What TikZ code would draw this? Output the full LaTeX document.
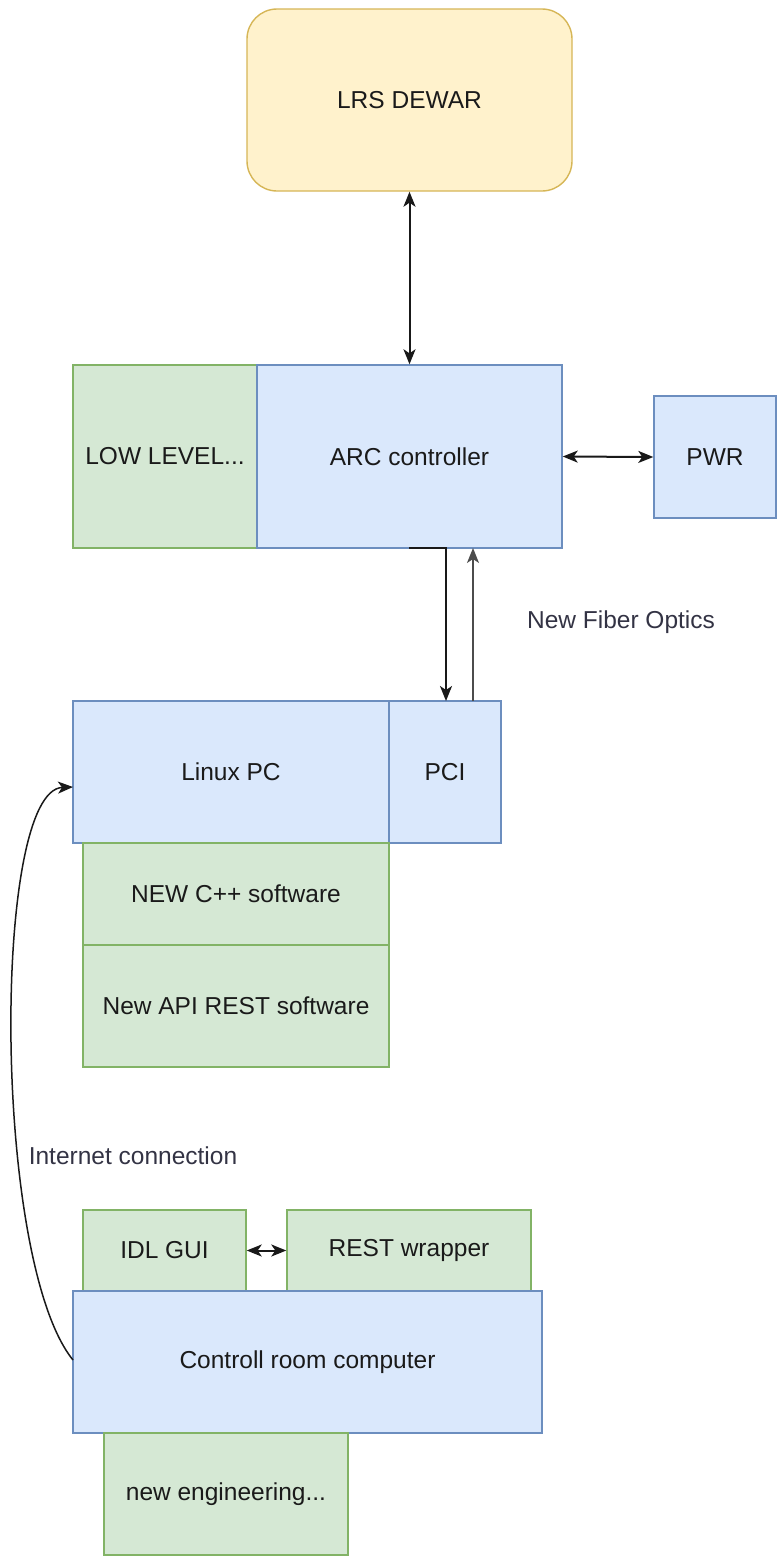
\documentclass[tikz,border=0pt]{standalone}
\usepackage{fontspec}
\setmainfont{Liberation Sans}
\usetikzlibrary{arrows.meta}
\definecolor{yfill}{HTML}{FFF2CC}\definecolor{ydraw}{HTML}{D6B656}
\definecolor{gfill}{HTML}{D5E8D4}\definecolor{gdraw}{HTML}{82B366}
\definecolor{bfill}{HTML}{DAE8FC}\definecolor{bdraw}{HTML}{6C8EBF}
\definecolor{txt}{HTML}{1A1A1A}\definecolor{lbl}{HTML}{333344}
\begin{document}
\begin{tikzpicture}[x=1pt,y=-1pt,
  >={Stealth[length=15pt,width=12pt,inset=4pt]},
  every node/.style={font=\fontsize{24.5}{28}\selectfont, text=txt},
  box/.style={draw, line width=1.4pt, inner sep=0pt},
  gbox/.style={box, fill=gfill, draw=gdraw},
  bbox/.style={box, fill=bfill, draw=bdraw},
  ybox/.style={box, fill=yfill, draw=ydraw, rounded corners=30pt},
  conn/.style={line width=2pt, black!90},
  lab/.style={text=lbl}]
\useasboundingbox (0,0) rectangle (779,1564);
% boxes
\node[ybox, minimum width=325pt, minimum height=182pt] (dewar) at (409.5,100) {LRS DEWAR};
\node[gbox, minimum width=184pt, minimum height=183pt] (low) at (165,456.5) {LOW LEVEL...};
\node[bbox, minimum width=305pt, minimum height=183pt] (arc) at (409.5,456.5) {ARC controller};
\node[bbox, minimum width=122pt, minimum height=122pt] (pwr) at (715,457) {PWR};
\node[bbox, minimum width=316pt, minimum height=142pt] (linux) at (231,772) {Linux PC};
\node[bbox, minimum width=112pt, minimum height=142pt] (pci) at (445,772) {PCI};
\node[gbox, minimum width=306pt, minimum height=102pt] (cpp) at (236,894) {NEW C++ software};
\node[gbox, minimum width=306pt, minimum height=122pt] (api) at (236,1006) {New API REST software};
\node[gbox, minimum width=163pt, minimum height=81pt] (idl) at (164.5,1250.5) {IDL GUI};
\node[gbox, minimum width=244pt, minimum height=81pt] (rest) at (409,1250.5) {REST wrapper};
\node[bbox, minimum width=469pt, minimum height=142pt] (ctrl) at (307.5,1362) {Controll room computer};
\node[gbox, minimum width=244pt, minimum height=122pt] (eng) at (226,1494) {new engineering...};
% connectors
\draw[conn, <->] (dewar.south) -- (arc.north);
\draw[conn, <->] (arc.east) -- (pwr.west);
\coordinate (dstart) at (409,548);
\coordinate (dend) at (446,701);
\draw[conn, ->] (dstart) -- (dend |- dstart) -- (dend);
\coordinate (ustart) at (473,701);
\coordinate (uend) at (473,548);
\draw[line width=1.6pt, black!70, ->] (ustart) -- (uend);
\node[lab] (fiber) at (621,622) {New Fiber Optics};
\coordinate (cstart) at (73,1360);
\coordinate (cend) at (73,787);
\draw[line width=1.5pt, black!90, ->] (cstart) .. controls (-8,1260) and (-8,790) .. (cend);
\node[lab] (inet) at (133,1156) {Internet connection};
\draw[conn, <->] (idl.east) -- (rest.west);
\end{tikzpicture}
\end{document}
